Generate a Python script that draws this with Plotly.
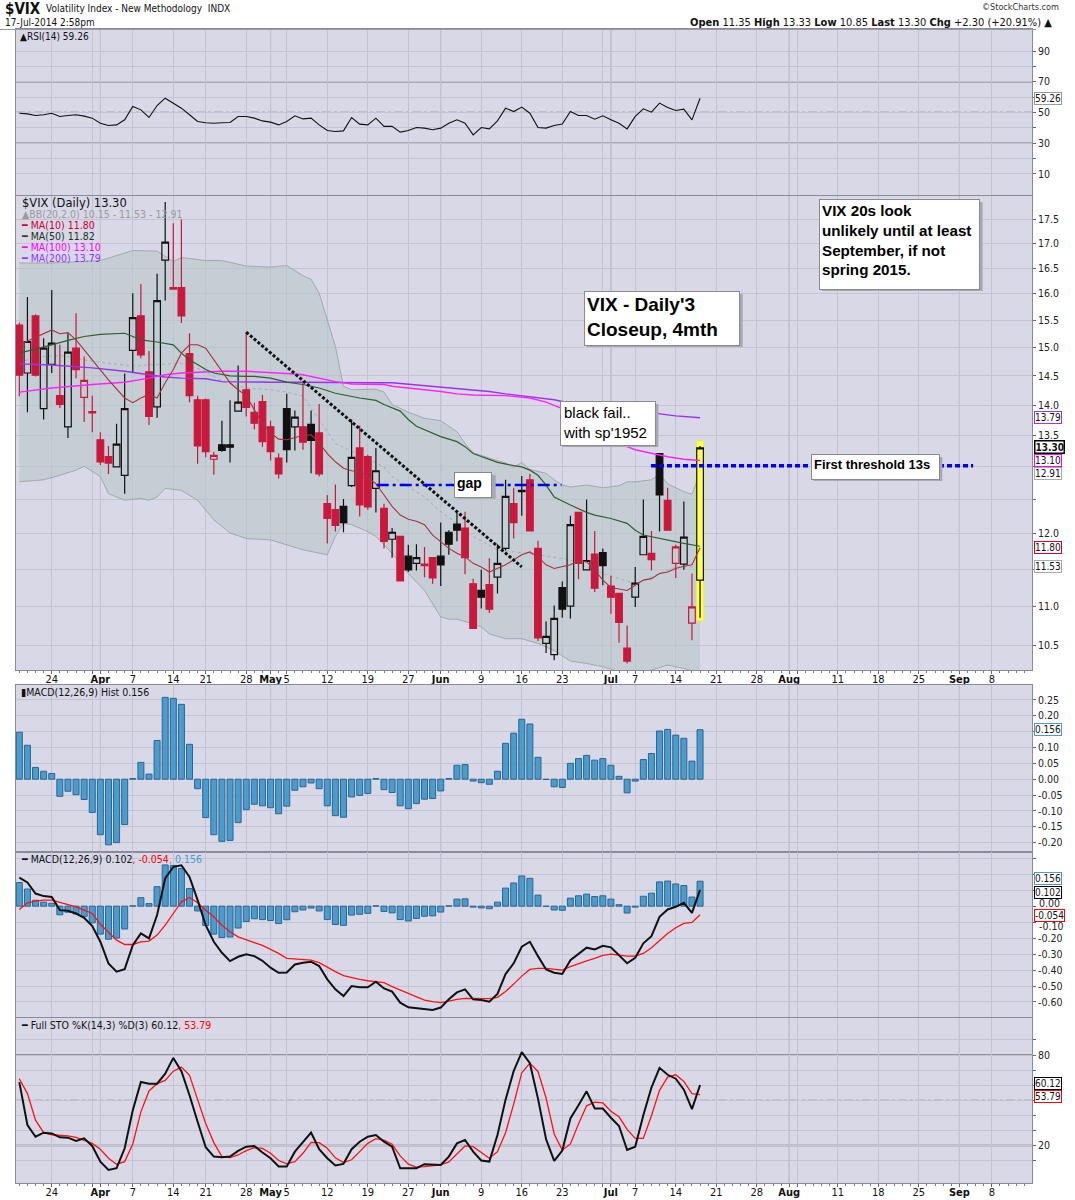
import math
import pandas as pd
import plotly.graph_objects as go
from plotly.subplots import make_subplots

# ---------------- calendar (categories) ----------------
HOLIDAYS = ["2014-04-18", "2014-05-26", "2014-07-04", "2014-09-01"]
trading_days = [d.strftime("%Y-%m-%d") for d in pd.bdate_range("2014-03-18", "2014-09-30")
                if d.strftime("%Y-%m-%d") not in HOLIDAYS]

tick_dates = ["2014-03-24", "2014-03-31", "2014-04-01", "2014-04-07", "2014-04-14", "2014-04-21",
              "2014-04-28", "2014-05-01", "2014-05-05", "2014-05-12", "2014-05-19", "2014-05-27",
              "2014-06-02", "2014-06-09", "2014-06-16", "2014-06-23", "2014-06-30", "2014-07-01",
              "2014-07-07", "2014-07-14", "2014-07-21", "2014-07-28", "2014-08-01", "2014-08-04",
              "2014-08-11", "2014-08-18", "2014-08-25", "2014-09-02", "2014-09-08"]
tick_labels = ["24", "", "<b>Apr</b>", "7", "14", "21", "28", "<b>May</b>", "5", "12", "19", "27",
               "<b>Jun</b>", "9", "16", "23", "", "<b>Jul</b>", "7", "14", "21", "28", "<b>Aug</b>", "",
               "11", "18", "25", "<b>Sep</b>", "8"]
month_dates = ["2014-04-01", "2014-05-01", "2014-06-02", "2014-07-01", "2014-08-01", "2014-09-02"]

# ---------------- price data (daily OHLC, $VIX) ----------------
opens = [15.41, 14.55, 15.58, 13.94, 14.70, 14.16, 13.64, 14.99, 14.13, 13.89,
         13.43, 13.16, 13.00, 12.87, 14.95, 15.58, 14.57, 13.97, 16.66, 16.12,
         16.12, 14.89, 14.09, 14.09, 13.12, 13.35, 13.35, 13.90, 14.26, 13.88,
         14.06, 13.64, 13.14, 13.94, 13.64, 13.64, 13.68, 13.54, 12.44, 12.35,
         12.40, 12.71, 13.30, 13.16, 12.67, 12.37, 11.92, 11.96, 11.68, 11.58,
         11.57, 11.66, 11.68, 12.02, 12.14, 12.08, 11.30, 11.21, 11.29, 11.39,
         11.79, 12.44, 12.62, 12.80, 11.79, 10.52, 10.38, 11.25, 11.00, 12.31,
         11.49, 11.71, 11.73, 11.27, 11.17, 10.46, 11.12, 11.70, 11.72, 13.21,
         12.49, 11.58, 11.57, 10.78, 11.35]
highs = [15.46, 15.94, 15.61, 15.17, 16.07, 15.05, 15.26, 15.63, 14.84, 14.16,
         13.55, 13.33, 13.69, 14.54, 16.01, 16.19, 14.94, 16.39, 17.86, 17.41,
         17.49, 15.26, 14.16, 14.11, 13.24, 13.74, 14.08, 14.68, 15.28, 14.04,
         14.17, 13.74, 13.21, 14.19, 13.91, 14.40, 13.91, 14.02, 12.57, 12.73,
         12.51, 13.76, 13.66, 13.19, 13.30, 12.44, 12.08, 11.97, 11.84, 11.85,
         11.81, 11.67, 12.16, 12.05, 12.30, 12.32, 11.37, 11.49, 11.65, 11.85,
         12.80, 12.68, 12.86, 12.89, 11.90, 10.80, 11.01, 11.33, 12.26, 12.32,
         12.50, 12.04, 11.79, 11.41, 11.17, 10.75, 11.53, 12.50, 12.04, 13.21,
         12.68, 11.84, 12.47, 11.44, 13.33]
lows = [14.15, 13.88, 14.49, 13.76, 14.55, 13.95, 13.46, 14.46, 13.72, 13.55,
        13.03, 12.89, 13.00, 12.59, 14.56, 14.81, 13.67, 13.79, 15.87, 16.08,
        15.45, 14.05, 13.05, 13.15, 12.88, 13.24, 13.07, 13.89, 13.81, 13.60,
        13.32, 13.10, 12.82, 13.07, 13.26, 13.27, 12.90, 12.85, 11.86, 12.03,
        12.02, 12.69, 12.25, 12.35, 12.31, 11.79, 11.66, 11.34, 11.46, 11.48,
        11.39, 11.30, 11.27, 11.70, 11.89, 11.43, 10.71, 10.97, 10.91, 11.17,
        11.76, 11.93, 12.26, 12.04, 10.55, 10.40, 10.31, 10.85, 10.84, 11.36,
        11.48, 11.19, 11.28, 10.90, 10.53, 10.27, 10.99, 11.70, 11.48, 12.03,
        12.05, 11.38, 11.49, 10.56, 10.85]
closes = [14.51, 15.11, 14.51, 14.99, 15.08, 14.01, 14.92, 14.61, 14.42, 13.87,
          13.08, 13.06, 13.36, 13.94, 15.55, 14.87, 13.81, 15.87, 17.02, 16.09,
          15.58, 14.16, 13.33, 13.24, 13.18, 13.26, 13.31, 14.05, 13.96, 13.70,
          13.40, 13.24, 12.89, 13.27, 13.80, 13.39, 13.42, 12.89, 12.22, 12.12,
          12.16, 13.15, 12.42, 12.39, 12.94, 11.89, 12.02, 11.34, 11.49, 11.66,
          11.55, 11.38, 11.56, 11.85, 12.05, 11.66, 10.71, 11.12, 10.96, 11.58,
          12.55, 12.16, 12.64, 12.04, 10.59, 10.61, 10.84, 10.96, 12.13, 11.58,
          11.62, 11.24, 11.55, 11.12, 10.79, 10.30, 11.31, 11.96, 11.63, 12.57,
          12.05, 11.81, 11.95, 10.99, 13.30]
# candle colour as drawn: r = red (down vs prior close), k = black
candle_colors = list("rkrkkrkrrr" "rrkkkrrkkr" "rrrrrkkkrr" "rrrkkrkrrr" "kkrrkrkrkk"
                     "rrkkkrrkrk" "krkrrkkkkr" "krkrrrkkrk" "rrkrk")

# ---------------- overlays ----------------
ma10_idx = [0, 4, 5, 6, 7, 9, 11, 13, 14, 15, 16, 17, 18, 19, 20, 21, 22, 23, 24, 25, 26, 27, 28, 29, 30,
            31, 32, 33, 34, 35, 36, 37, 38, 39, 40, 41, 42, 43, 44, 45, 46, 47, 48, 49, 50, 51, 52, 53,
            54, 55, 56, 57, 58, 60, 62, 63, 64, 65, 66, 68, 69, 70, 71, 72, 73, 74, 75, 76, 77, 78, 79,
            80, 81, 82, 83, 84]
ma10_val = [15.05, 15.32, 15.25, 15.27, 15.14, 14.78, 14.43, 14.12, 14.04, 14.12, 14.18, 14.12, 14.38,
            14.61, 14.90, 15.05, 15.05, 14.99, 14.78, 14.58, 14.38, 14.26, 14.16, 13.92, 13.70, 13.54,
            13.44, 13.43, 13.46, 13.50, 13.51, 13.38, 13.21, 13.08, 12.98, 12.94, 12.93, 12.84, 12.74,
            12.57, 12.40, 12.27, 12.21, 12.18, 12.13, 11.98, 11.89, 11.79, 11.72, 11.67, 11.58, 11.53,
            11.46, 11.56, 11.70, 11.74, 11.67, 11.56, 11.51, 11.56, 11.62, 11.60, 11.49, 11.35, 11.25,
            11.23, 11.21, 11.28, 11.35, 11.37, 11.44, 11.46, 11.51, 11.54, 11.56, 11.80]
ma50_idx = [0, 2, 4, 6, 8, 10, 12, 13, 14, 15, 17, 19, 20, 21, 22, 23, 24, 26, 28, 29, 31, 33, 35, 37, 39,
            40, 42, 44, 45, 47, 48, 49, 50, 52, 54, 55, 56, 57, 59, 61, 62, 63, 64, 65, 66, 68, 70, 71,
            73, 75, 76, 77, 79, 80, 82, 84]
ma50_val = [14.90, 14.97, 15.05, 15.13, 15.20, 15.24, 15.25, 15.26, 15.20, 15.14, 15.10, 15.05, 14.90,
            14.78, 14.70, 14.61, 14.55, 14.50, 14.49, 14.49, 14.46, 14.39, 14.35, 14.29, 14.20, 14.17,
            14.12, 14.08, 14.01, 13.90, 13.76, 13.65, 13.59, 13.48, 13.40, 13.32, 13.21, 13.16, 13.07,
            13.02, 13.00, 12.95, 12.87, 12.72, 12.54, 12.42, 12.31, 12.27, 12.22, 12.15, 12.05, 11.98,
            11.93, 11.91, 11.86, 11.82]
ma100_idx = [0, 4, 9, 13, 16, 18, 20, 23, 25, 28, 31, 33, 35, 37, 39, 41, 43, 45, 46, 48, 50, 52, 54, 56,
             60, 62, 63, 65, 67, 74, 75, 76, 78, 80, 82, 84]
ma100_val = [14.22, 14.29, 14.35, 14.39, 14.46, 14.52, 14.55, 14.57, 14.58, 14.58, 14.56, 14.54, 14.52,
             14.46, 14.40, 14.36, 14.36, 14.35, 14.32, 14.29, 14.27, 14.23, 14.19, 14.17, 14.16, 14.13,
             14.12, 14.05, 13.94, 13.34, 13.32, 13.27, 13.21, 13.16, 13.12, 13.10]
ma200_idx = [0, 4, 9, 13, 16, 18, 20, 23, 25, 28, 31, 35, 39, 43, 46, 50, 54, 56, 58, 60, 62, 64, 66, 67,
             79, 81, 84]
ma200_val = [14.71, 14.69, 14.64, 14.58, 14.52, 14.48, 14.46, 14.45, 14.40, 14.39, 14.39, 14.39, 14.38,
             14.38, 14.38, 14.33, 14.29, 14.26, 14.23, 14.19, 14.16, 14.13, 14.09, 14.06, 13.85, 13.82,
             13.79]
bb_up_idx = [0, 4, 10, 12, 14, 17, 18, 19, 20, 23, 25, 27, 28, 31, 33, 35, 36, 37, 38, 39, 40, 41, 44, 45,
             46, 48, 50, 52, 54, 55, 56, 58, 60, 61, 62, 63, 65, 66, 67, 68, 70, 72, 74, 75, 76, 78, 79,
             80, 82, 83, 84]
bb_up_val = [16.60, 16.60, 16.65, 16.75, 16.85, 16.84, 16.74, 16.63, 16.71, 16.65, 16.65, 16.57, 16.54,
             16.52, 16.55, 16.35, 16.28, 16.01, 15.50, 15.02, 14.32, 14.26, 14.27, 14.22, 14.01, 13.88,
             13.78, 13.74, 13.56, 13.37, 13.22, 13.14, 13.06, 12.99, 13.07, 12.96, 12.90, 12.80, 12.72,
             12.69, 12.72, 12.68, 12.71, 12.77, 12.77, 12.80, 12.89, 12.74, 12.62, 12.58, 12.91]
bb_lo_idx = [0, 3, 5, 7, 8, 10, 11, 13, 15, 16, 17, 18, 20, 22, 24, 26, 28, 31, 33, 35, 38, 39, 40, 41,
             43, 44, 46, 48, 50, 52, 53, 54, 56, 57, 58, 60, 62, 64, 66, 68, 70, 72, 74, 76, 78, 80, 82, 84]
bb_lo_val = [12.77, 12.80, 12.87, 12.95, 13.01, 12.85, 12.59, 12.49, 12.52, 12.49, 12.54, 12.67, 12.64,
             12.49, 12.20, 12.01, 11.93, 11.91, 11.84, 11.77, 11.70, 11.96, 12.15, 12.13, 12.03, 11.96,
             11.72, 11.44, 11.21, 10.86, 10.83, 10.83, 10.77, 10.73, 10.64, 10.58, 10.58, 10.52, 10.43,
             10.30, 10.27, 10.23, 10.17, 10.15, 10.19, 10.25, 10.21, 10.15]
bb_mid_idx = [0, 3, 5, 8, 11, 14, 16, 20, 23, 25, 28, 31, 33, 35, 37, 39, 42, 44, 45, 46, 48, 50, 52, 54,
              56, 59, 64, 68, 70, 72, 74, 76, 79, 81, 84]
bb_mid_val = [14.75, 14.84, 14.86, 14.78, 14.72, 14.67, 14.69, 14.72, 14.58, 14.40, 14.29, 14.26, 14.22,
              14.15, 13.76, 13.37, 13.19, 13.06, 13.00, 12.85, 12.69, 12.54, 12.32, 12.15, 11.96, 11.77,
              11.70, 11.63, 11.53, 11.44, 11.37, 11.30, 11.44, 11.53, 11.53]

# ---------------- indicator panels ----------------
rsi = [49.5, 49.1, 48.0, 48.5, 49.5, 47.4, 48.0, 48.5, 47.6, 46.3,
       43.0, 41.5, 41.9, 45.2, 53.9, 51.7, 46.7, 54.5, 59.3, 56.1,
       52.8, 48.5, 44.1, 43.3, 43.0, 43.3, 43.5, 47.4, 47.4, 46.3,
       44.5, 43.7, 41.9, 44.1, 47.8, 45.8, 46.3, 41.9, 38.2, 37.6,
       38.0, 46.7, 42.4, 41.9, 46.3, 40.9, 40.9, 37.2, 38.2, 40.2,
       39.8, 38.7, 39.8, 43.0, 45.2, 43.0, 35.4, 40.2, 39.3, 44.5,
       52.8, 50.6, 53.5, 49.5, 40.2, 39.8, 41.5, 42.4, 50.6, 48.0,
       48.0, 45.6, 47.8, 45.2, 43.0, 39.3, 47.4, 52.4, 50.2, 56.1,
       53.3, 51.3, 52.2, 45.2, 59.26]
macd_hist = [0.148, 0.107, 0.037, 0.025, 0.018, -0.054, -0.038, -0.049, -0.064, -0.105,
             -0.175, -0.207, -0.200, -0.143, 0.002, 0.053, 0.016, 0.122, 0.258, 0.255,
             0.236, 0.110, -0.030, -0.121, -0.175, -0.196, -0.193, -0.137, -0.096, -0.079,
             -0.084, -0.090, -0.109, -0.085, -0.035, -0.024, -0.012, -0.030, -0.084, -0.115,
             -0.120, -0.056, -0.051, -0.045, 0.002, -0.033, -0.042, -0.084, -0.093, -0.077,
             -0.063, -0.061, -0.037, 0.002, 0.044, 0.046, -0.006, -0.011, -0.016, 0.025,
             0.113, 0.145, 0.189, 0.174, 0.069, -0.001, -0.024, -0.026, 0.050, 0.065,
             0.075, 0.060, 0.065, 0.044, 0.009, -0.043, -0.006, 0.062, 0.081, 0.152,
             0.157, 0.139, 0.129, 0.057, 0.156]
macd_line = [0.179, 0.148, 0.079, 0.063, 0.058, -0.025, -0.029, -0.046, -0.073, -0.125,
             -0.223, -0.358, -0.410, -0.394, -0.244, -0.171, -0.202, -0.056, 0.173, 0.246,
             0.256, 0.183, 0.038, -0.119, -0.223, -0.292, -0.344, -0.317, -0.302, -0.313,
             -0.342, -0.385, -0.417, -0.415, -0.365, -0.354, -0.348, -0.375, -0.458, -0.521,
             -0.563, -0.500, -0.508, -0.508, -0.473, -0.515, -0.535, -0.604, -0.633, -0.640,
             -0.646, -0.650, -0.635, -0.583, -0.540, -0.521, -0.583, -0.588, -0.598, -0.550,
             -0.425, -0.358, -0.254, -0.223, -0.313, -0.396, -0.417, -0.425, -0.338, -0.300,
             -0.260, -0.271, -0.248, -0.258, -0.306, -0.358, -0.323, -0.233, -0.188, -0.067,
             -0.021, -0.004, 0.021, -0.042, 0.102]
macd_signal = [-0.021, 0.021, 0.031, 0.038, 0.038, 0.025, 0.013, -0.004, -0.025, -0.046,
               -0.113, -0.160, -0.213, -0.240, -0.240, -0.223, -0.219, -0.181, -0.119, -0.046,
               0.027, 0.054, 0.021, -0.025, -0.067, -0.119, -0.160, -0.192, -0.213, -0.229,
               -0.246, -0.271, -0.296, -0.327, -0.331, -0.333, -0.338, -0.354, -0.383, -0.410,
               -0.435, -0.448, -0.458, -0.467, -0.473, -0.479, -0.504, -0.525, -0.550, -0.571,
               -0.588, -0.598, -0.604, -0.594, -0.583, -0.577, -0.577, -0.577, -0.579, -0.571,
               -0.535, -0.488, -0.438, -0.396, -0.390, -0.390, -0.394, -0.400, -0.379, -0.358,
               -0.342, -0.327, -0.308, -0.300, -0.306, -0.313, -0.313, -0.296, -0.260, -0.213,
               -0.171, -0.135, -0.108, -0.102, -0.054]
sto_k = [62.0, 33.5, 25.8, 28.5, 28.0, 25.4, 25.2, 23.0, 24.7, 19.7,
         9.3, 3.8, 4.9, 18.1, 43.4, 62.1, 61.0, 61.0, 67.6, 78.1,
         69.3, 53.3, 35.7, 18.8, 12.6, 12.2, 12.6, 16.4, 19.2, 19.7,
         15.3, 11.5, 6.0, 6.0, 15.9, 22.5, 28.5, 17.5, 11.5, 6.7,
         7.8, 17.5, 22.5, 25.8, 26.9, 22.5, 19.2, 4.9, 4.9, 4.9,
         7.6, 7.1, 7.1, 12.6, 21.4, 23.6, 15.9, 10.0, 9.3, 26.9,
         50.4, 69.3, 81.9, 74.6, 51.1, 24.1, 9.8, 16.6, 37.9, 46.7,
         55.9, 44.5, 44.5, 38.4, 32.9, 17.0, 19.2, 40.1, 58.4, 71.5,
         66.9, 64.3, 57.0, 44.1, 60.12]
sto_d = [64.3, 54.4, 36.8, 28.5, 27.1, 26.9, 26.3, 25.4, 23.6, 21.4,
         17.5, 11.5, 7.6, 9.3, 21.0, 42.3, 56.2, 61.0, 63.2, 69.3,
         72.0, 66.5, 50.4, 34.6, 21.9, 12.6, 12.0, 13.7, 16.6, 18.6,
         18.1, 14.8, 10.0, 7.8, 9.3, 14.8, 22.1, 21.9, 18.1, 11.8,
         8.7, 10.5, 15.9, 21.4, 24.5, 23.6, 20.8, 13.1, 7.6, 5.6,
         6.0, 6.7, 7.1, 9.1, 14.4, 19.7, 19.2, 15.3, 11.5, 15.9,
         28.5, 47.4, 68.2, 74.6, 69.1, 51.5, 27.6, 17.0, 21.0, 34.2,
         46.3, 48.7, 48.2, 42.7, 39.0, 30.7, 24.7, 24.7, 39.7, 56.6,
         65.4, 66.9, 62.5, 54.4, 53.79]

# ---------------- chart drawings (user annotations) ----------------
trend_from = ("2014-04-28", 15.28)
trend_to = ("2014-06-16", 11.53)
gap_level, gap_span = 12.72, (44.1, 66.9)
threshold_level, threshold_span = 13.02, (77.95, 117.7)

# ---------------- geometry ----------------
W, H = 1075, 1200
ML, MR, MT, MB = 16, 43, 29, 17
PW, PH = W - ML - MR, H - MT - MB


def px_x(px):
    return (px - ML) / PW


def px_y(py):
    return (H - MB - py) / PH


def pos(d):
    return trading_days.index(d)


n = len(closes)
idx = list(range(n))
tick_pos = [pos(d) for d in tick_dates]
month_pos = [pos(d) for d in month_dates]
XR = [-0.41, 124.96]
YR_MAIN = [math.log10(10.19), math.log10(17.99)]

BG = "#d8d8e7"
GRID = "#c3c3d3"
MONTHGRID = "#a4a4b6"
BORDER = "#8a8a9a"
RED = "#c8193c"
BLUE_BAR = "#4b9bcc"
TF = "DejaVu Sans Condensed, Liberation Sans Narrow, DejaVu Sans, sans-serif"
LF = "DejaVu Sans, Verdana, sans-serif"

fig = make_subplots(rows=5, cols=1)

# RSI
fig.add_trace(go.Scatter(x=idx, y=rsi, mode="lines", line=dict(color="#111111", width=1.1),
                         hoverinfo="skip"), row=1, col=1)

# ---- price panel, base layer: Bollinger band + highlight ----
fig.add_trace(go.Scatter(x=bb_up_idx, y=bb_up_val, mode="lines", line=dict(color="#a3a8ae", width=1),
                         hoverinfo="skip"), row=2, col=1)
fig.add_trace(go.Scatter(x=bb_lo_idx, y=bb_lo_val, mode="lines", line=dict(color="#a3a8ae", width=1),
                         fill="tonexty", fillcolor="rgba(182,196,198,0.55)", hoverinfo="skip"), row=2, col=1)
fig.add_trace(go.Scatter(x=bb_mid_idx, y=bb_mid_val, mode="lines",
                         line=dict(color="#a9acb4", width=1, dash="dot"), hoverinfo="skip"), row=2, col=1)
last = n - 1
hx0, hx1 = last - 0.45, last + 0.45
hy0, hy1 = lows[last] * 0.996, highs[last] * 1.006
fig.add_trace(go.Scatter(x=[hx0, hx1, hx1, hx0, hx0], y=[hy0, hy0, hy1, hy1, hy0], mode="lines",
                         fill="toself", fillcolor="#ffff55", line=dict(color="#eeee44", width=1),
                         hoverinfo="skip"), row=2, col=1)

# ---- price panel, overlay layer (drawn above): candles + moving averages ----
for ccode, col in (("k", "#111111"), ("r", RED)):
    sel = [i for i in idx if candle_colors[i] == ccode]
    fig.add_trace(go.Candlestick(
        x=sel, open=[opens[i] for i in sel], high=[highs[i] for i in sel],
        low=[lows[i] for i in sel], close=[closes[i] for i in sel],
        increasing=dict(line=dict(color=col, width=1.2), fillcolor="rgba(0,0,0,0)"),
        decreasing=dict(line=dict(color=col, width=1.2), fillcolor=col),
        whiskerwidth=0, hoverinfo="skip", xaxis="x6", yaxis="y6"))
for xs, ys, c, w in ((ma200_idx, ma200_val, "#9933ee", 1.4), (ma100_idx, ma100_val, "#ff22ff", 1.4),
                     (ma50_idx, ma50_val, "#2f5f2f", 1.2), (ma10_idx, ma10_val, "#a8323e", 1.1)):
    fig.add_trace(go.Scatter(x=xs, y=ys, mode="lines", line=dict(color=c, width=w),
                             hoverinfo="skip", xaxis="x6", yaxis="y6"))

# MACD histogram panel
fig.add_trace(go.Bar(x=idx, y=macd_hist, marker=dict(color=BLUE_BAR, line=dict(color="#2b6690", width=1)),
                     width=0.74, hoverinfo="skip"), row=3, col=1)
# MACD panel
fig.add_trace(go.Bar(x=idx, y=macd_hist, marker=dict(color=BLUE_BAR, line=dict(color="#2b6690", width=1)),
                     width=0.74, hoverinfo="skip"), row=4, col=1)
fig.add_trace(go.Scatter(x=idx, y=macd_signal, mode="lines", line=dict(color="#ff1111", width=1.3),
                         hoverinfo="skip"), row=4, col=1)
fig.add_trace(go.Scatter(x=idx, y=macd_line, mode="lines", line=dict(color="#111111", width=2),
                         hoverinfo="skip"), row=4, col=1)
# Stochastics
fig.add_trace(go.Scatter(x=idx, y=sto_d, mode="lines", line=dict(color="#ff1111", width=1.3),
                         hoverinfo="skip"), row=5, col=1)
fig.add_trace(go.Scatter(x=idx, y=sto_k, mode="lines", line=dict(color="#111111", width=2),
                         hoverinfo="skip"), row=5, col=1)

# ---------------- axes ----------------
domains = {1: [px_y(195), px_y(29)], 2: [px_y(670), px_y(196)], 3: [px_y(851.5), px_y(685)],
           4: [px_y(1017), px_y(852)], 5: [px_y(1183), px_y(1017.5)]}
for r in range(1, 6):
    xa = "xaxis" if r == 1 else f"xaxis{r}"
    ya = "yaxis" if r == 1 else f"yaxis{r}"
    labelled = r in (2, 5)
    fig.layout[xa].update(
        range=XR, tickmode="array", tickvals=tick_pos, ticktext=tick_labels, tickangle=0,
        showgrid=True, gridcolor=GRID, gridwidth=1, zeroline=False, automargin=False,
        showline=True, mirror=True, linecolor=BORDER, linewidth=1,
        showticklabels=labelled, ticks="outside" if labelled else "", ticklen=3, tickcolor="#666",
        ticklabelstandoff=-4,
        tickfont=dict(size=11, color="#111", family=TF),
        minor=dict(ticks="outside" if labelled else "", ticklen=2, tickcolor="#777",
                   tickmode="linear", tick0=0, dtick=1, showgrid=False),
        rangeslider=dict(visible=False), fixedrange=True)
    fig.layout[ya].update(domain=domains[r], side="right", showgrid=True, gridcolor=GRID, gridwidth=1,
                          zeroline=False, showline=True, mirror=True, linecolor=BORDER, linewidth=1,
                          ticks="outside", ticklen=3, tickcolor="#666", automargin=False,
                          tickfont=dict(size=10.5, color="#222", family=TF), fixedrange=True)

fig.layout.yaxis.update(range=[-3.8, 104.4], tickmode="array", tickvals=[10, 20, 30, 40, 50, 60, 70, 80, 90],
                        ticktext=["10", "", "30", "", "50", "", "70", "", "90"])
price_ticks = [10.5, 11.0, 11.5, 12.0, 12.5, 13.0, 13.5, 14.0, 14.5, 15.0, 15.5, 16.0, 16.5, 17.0, 17.5]
price_text = ["10.5", "11.0", "", "12.0", "", "", "13.5", "14.0", "14.5", "15.0", "15.5", "16.0",
              "16.5", "17.0", "17.5"]
fig.layout.yaxis2.update(type="log", range=YR_MAIN, tickmode="array",
                         tickvals=price_ticks, ticktext=price_text)
fig.update_layout(
    xaxis6=dict(overlaying="x2", anchor="y6", range=XR, visible=False, fixedrange=True,
                rangeslider=dict(visible=False)),
    yaxis6=dict(overlaying="y2", anchor="x6", type="log", range=YR_MAIN, visible=False, fixedrange=True))
hist_ticks = [-0.20, -0.15, -0.10, -0.05, 0.0, 0.05, 0.10, 0.15, 0.20, 0.25]
fig.layout.yaxis3.update(range=[-0.228, 0.297], tickmode="array", tickvals=hist_ticks,
                         ticktext=["-0.20", "-0.15", "-0.10", "-0.05", "0.00", "0.05", "0.10", "", "0.20", "0.25"])
macd_ticks = [-0.6, -0.5, -0.4, -0.3, -0.2, -0.1, 0.0, 0.1, 0.2, 0.3]
# "0.00" and "-0.10" are placed as nudged labels below so they clear the value tags
fig.layout.yaxis4.update(range=[-0.694, 0.339], tickmode="array", tickvals=macd_ticks,
                         ticktext=["-0.60", "-0.50", "-0.40", "-0.30", "-0.20", "", "", "", "", ""])
fig.layout.yaxis5.update(range=[-4.9, 104.9], tickmode="array", tickvals=[10, 20, 30, 40, 50, 60, 70, 80, 90],
                         ticktext=["", "20", "", "", "", "", "", "80", ""])

shapes = []
# darker month-start grid lines
for r in range(1, 6):
    xr = "x" if r == 1 else f"x{r}"
    yr = "y" if r == 1 else f"y{r}"
    for p in month_pos:
        shapes.append(dict(type="line", xref=xr, yref=f"{yr} domain", x0=p, x1=p, y0=0, y1=1,
                           line=dict(color=MONTHGRID, width=1), layer="below"))
# RSI / STO reference levels
for yr, lv in (("y", 70), ("y", 30), ("y5", 80), ("y5", 20)):
    shapes.append(dict(type="line", xref="paper", yref=yr, x0=0, x1=1, y0=lv, y1=lv,
                       line=dict(color="#7a7a7a", width=1.5), layer="below"))
for yr in ("y", "y5"):
    shapes.append(dict(type="line", xref="paper", yref=yr, x0=0, x1=1, y0=50, y1=50,
                       line=dict(color="#7a7a7a", width=1.2, dash="dashdot"), layer="below"))
# drawings on price chart (shape positions on a log axis are given in data units)
shapes.append(dict(type="line", xref="x2", yref="y2", x0=pos(trend_from[0]), y0=trend_from[1],
                   x1=pos(trend_to[0]), y1=trend_to[1],
                   line=dict(color="#111111", width=3, dash="3px,2px")))
shapes.append(dict(type="line", xref="x2", yref="y2", x0=gap_span[0], x1=gap_span[1],
                   y0=gap_level, y1=gap_level,
                   line=dict(color="#0000ee", width=2.5, dash="12px,4px,3px,4px")))
shapes.append(dict(type="line", xref="x2", yref="y2", x0=threshold_span[0], x1=threshold_span[1],
                   y0=threshold_level, y1=threshold_level,
                   line=dict(color="#0000ff", width=3.5, dash="5px,3px")))
# header rule
shapes.append(dict(type="line", xref="paper", yref="paper", x0=px_x(0), x1=px_x(1036),
                   y0=px_y(29.5), y1=px_y(29.5), line=dict(color="#9a9a9a", width=1)))

ann = []


def text(px, py, s, size=10, color="#111", family=LF, anchor="left"):
    ann.append(dict(xref="paper", yref="paper", x=px_x(px), y=px_y(py), xanchor=anchor, yanchor="middle",
                    text=s, showarrow=False, font=dict(size=size, color=color, family=family)))


def box(x0, y0, x1, y1, s, size, bold=True):
    w, h = x1 - x0, y1 - y0
    # drop shadow as a plain rectangle, then the white text box above it
    shapes.append(dict(type="rect", xref="paper", yref="paper", x0=px_x(x0 + 3), x1=px_x(x1 + 3),
                       y0=px_y(y1 + 3), y1=px_y(y0 + 3), fillcolor="#a8a8b0", line=dict(width=0),
                       layer="above"))
    ann.append(dict(xref="paper", yref="paper", x=px_x(x0), y=px_y(y0), xanchor="left", yanchor="top",
                    align="left", valign="top", width=w - 6, height=h - 4, borderpad=2, borderwidth=1,
                    showarrow=False, text=f"<b>{s}</b>" if bold else s, bgcolor="white",
                    bordercolor="#8a8a8a",
                    font=dict(size=size, family="Liberation Sans, Arial, sans-serif", color="#000")))


def tag(yref, yval, label, color, bold=False, shift=0):
    ann.append(dict(xref="paper", x=1, xanchor="left", xshift=2, yref=yref, y=yval, yanchor="middle",
                    yshift=shift, text=f"<b>{label}</b>" if bold else label, showarrow=False,
                    bgcolor="white", bordercolor=color, borderwidth=1.5 if bold else 1, borderpad=0,
                    font=dict(size=10, color="#111", family=TF)))


def axis_label(yref, yval, label, shift):
    ann.append(dict(xref="paper", x=1, xanchor="left", xshift=5, yref=yref, y=yval, yanchor="middle",
                    yshift=shift, text=label, showarrow=False,
                    font=dict(size=10.5, color="#222", family=TF)))


# header
text(3, 9, "<b>$VIX</b>", size=15, family=TF)
text(44, 9, "Volatility Index - New Methodology  INDX", size=10, family=TF)
text(3, 22, "17-Jul-2014 2:58pm", size=10, family=TF)
text(1061, 7, "©StockCharts.com", size=9, color="#333", family=TF, anchor="right")
text(1054, 22, "<b>Open</b> 11.35 <b>High</b> 13.33 <b>Low</b> 10.85 <b>Last</b> 13.30 "
               "<b>Chg</b> +2.30 (+20.91%) ▲", size=11, family=TF, anchor="right")

# panel legends
text(18, 36.5, "▲RSI(14) 59.26", size=10, family=TF)
text(20, 203, "$VIX (Daily) 13.30", size=11.5, family=LF)
text(20, 214, "▲BB(20,2.0) 10.15 - 11.53 - 12.91", size=10.5, color="#9a9a9a", family=TF)
text(19, 225, "<span style='color:#cc0033'>━</span> MA(10) 11.80", size=10.5, color="#cc0033", family=TF)
text(19, 236, "<span style='color:#224422'>━</span> MA(50) 11.82", size=10.5, color="#223322", family=TF)
text(19, 247, "<span style='color:#ff00ff'>━</span> MA(100) 13.10", size=10.5, color="#ff00ff", family=TF)
text(19, 258, "<span style='color:#9933ff'>━</span> MA(200) 13.79", size=10.5, color="#9933ff", family=TF)
text(19, 692.5, "▮MACD(12,26,9) Hist 0.156", size=10.5, family=TF)
text(19, 858.5, "━ MACD(12,26,9) 0.102<span style='color:#ff0000'>, -0.054</span>"
                "<span style='color:#4b9bcc'>, 0.156</span>", size=10.5, family=TF)
text(19, 1025, "━ Full STO %K(14,3) %D(3) 60.12<span style='color:#ff0000'>, 53.79</span>",
     size=10.5, family=TF)

# commentary boxes
box(583.7, 291, 739.7, 344, "VIX - Daily'3<br>Closeup, 4mth", 19)
box(818.8, 199, 979.6, 288, "VIX 20s look<br>unlikely until at least<br>September, if not<br>spring 2015.", 15.2)
box(559.8, 401, 655.4, 444, "black fail..<br>with sp'1952", 15, bold=False)
box(454.3, 471.7, 492.7, 495.7, "gap", 14)
box(810.6, 454, 939.3, 478, "First threshold 13s", 13)

# nudged MACD axis labels
axis_label("y4", 0.0, "0.00", 3)
axis_label("y4", -0.10, "-0.10", -4)

# value tags
tag("y", rsi[-1], f"{rsi[-1]:.2f}", "#999999")
tag("y2", math.log10(ma200_val[-1]), f"{ma200_val[-1]:.2f}", "#9933ff")
tag("y2", math.log10(closes[-1]), f"{closes[-1]:.2f}", "#000000", bold=True, shift=1)
tag("y2", math.log10(ma100_val[-1]), f"{ma100_val[-1]:.2f}", "#ff00ff")
tag("y2", math.log10(bb_up_val[-1]), f"{bb_up_val[-1]:.2f}", "#aaaaaa", shift=-1)
tag("y2", math.log10(ma10_val[-1]), f"{ma10_val[-1]:.2f}", "#cc0033")
tag("y2", math.log10(bb_mid_val[-1]), f"{bb_mid_val[-1]:.2f}", "#aaaaaa")
tag("y3", macd_hist[-1], f"{macd_hist[-1]:.3f}", BLUE_BAR)
tag("y4", macd_hist[-1], f"{macd_hist[-1]:.3f}", BLUE_BAR, shift=2.5)
tag("y4", macd_line[-1], f"{macd_line[-1]:.3f}", "#000000", shift=-2.5)
tag("y4", macd_signal[-1], f"{macd_signal[-1]:.3f}", "#ff0000", shift=-1)
tag("y5", sto_k[-1], f"{sto_k[-1]:.2f}", "#000000", shift=1.5)
tag("y5", sto_d[-1], f"{sto_d[-1]:.2f}", "#ff0000", shift=-1.5)

fig.update_layout(shapes=shapes, annotations=ann)

fig.update_layout(width=W, height=H, margin=dict(l=ML, r=MR, t=MT, b=MB, pad=0, autoexpand=False),
                  paper_bgcolor="white", plot_bgcolor=BG, showlegend=False,
                  boxgap=0.18, boxgroupgap=0, bargap=0.25, font=dict(family=TF))

fig.write_html("out.html", include_plotlyjs=True, config={"displayModeBar": False},
               post_script="document.body.style.margin='0';document.body.style.overflow='hidden';")
